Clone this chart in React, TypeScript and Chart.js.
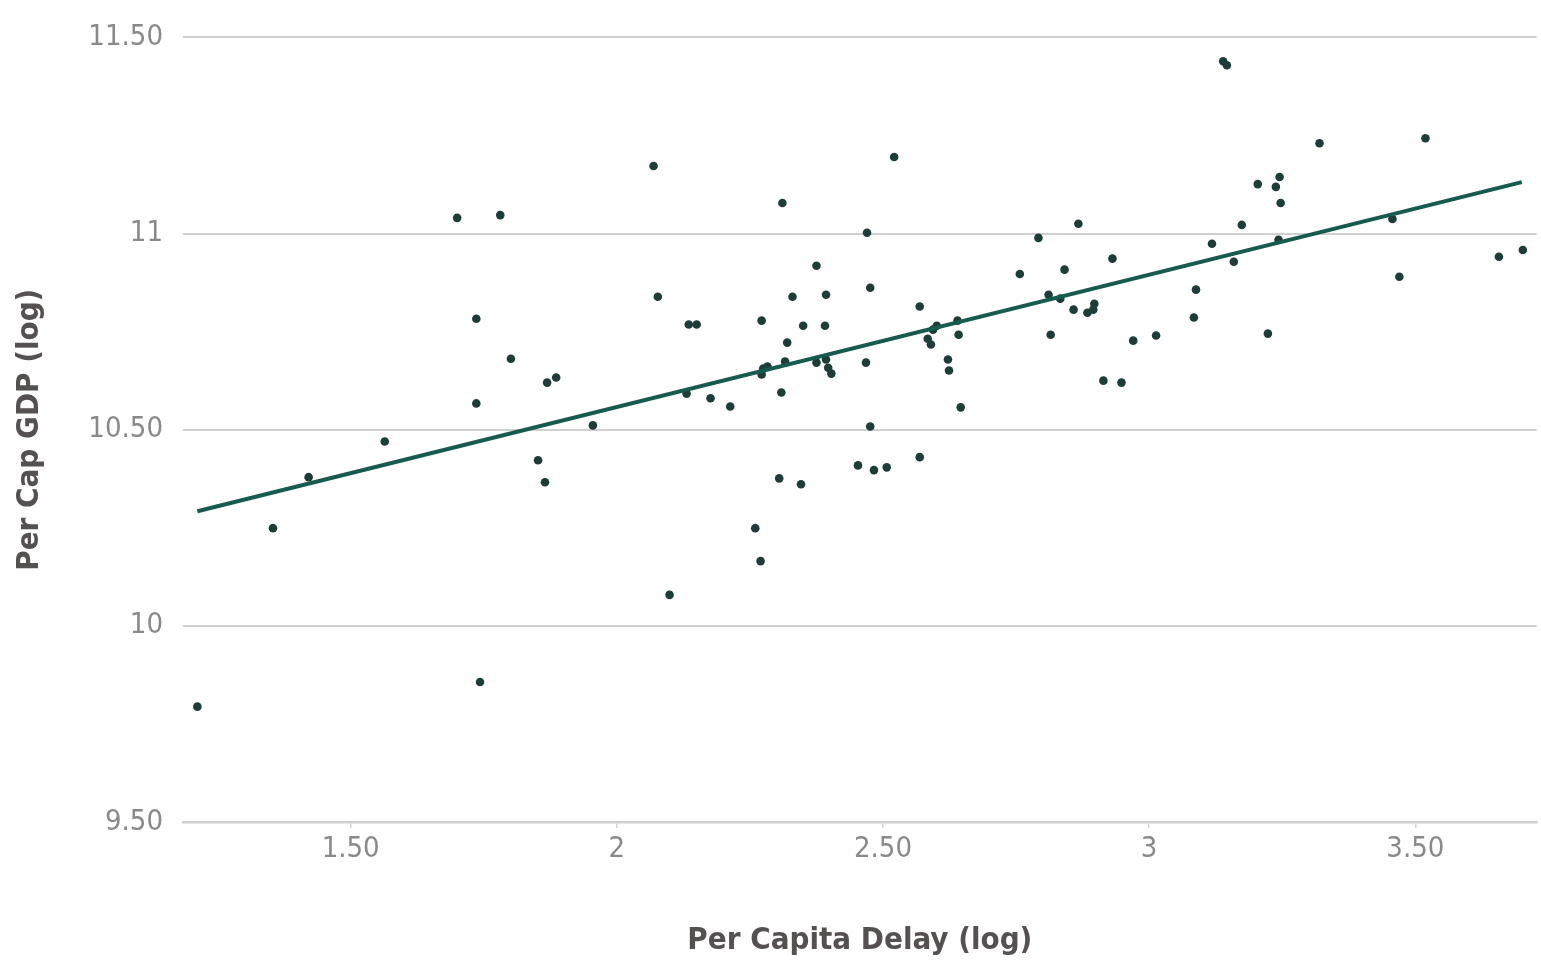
import React, { useEffect, useRef } from "react";
import { Chart, registerables } from "chart.js";

Chart.register(...registerables);

// Per Capita Delay (log) — x values of each country point
const delayX: number[] = [
  1.212, 1.354, 1.421, 1.564, 1.700, 1.736, 1.736, 1.743, 1.781, 1.801,
  1.852, 1.865, 1.869, 1.886, 1.955, 2.069, 2.077, 2.099, 2.131, 2.135,
  2.150, 2.176, 2.213, 2.260, 2.270, 2.272, 2.272, 2.275, 2.283, 2.305,
  2.311, 2.309, 2.316, 2.320, 2.330, 2.346, 2.350, 2.375, 2.375, 2.393,
  2.391, 2.393, 2.403, 2.397, 2.453, 2.468, 2.470, 2.476, 2.476, 2.483,
  2.507, 2.521, 2.569, 2.569, 2.590, 2.584, 2.601, 2.594, 2.622, 2.624,
  2.640, 2.642, 2.646, 2.757, 2.792, 2.811, 2.815, 2.841, 2.833, 2.858,
  2.867, 2.884, 2.897, 2.895, 2.914, 2.931, 2.948, 2.970, 3.013, 3.084,
  3.088, 3.118, 3.139, 3.146, 3.159, 3.174, 3.204, 3.223, 3.238, 3.245,
  3.243, 3.247, 3.320, 3.457, 3.470, 3.519, 3.657, 3.702,
];

// Per Cap GDP (log) — y values, same order
const gdpY: number[] = [
  9.794, 10.249, 10.379, 10.470, 11.040, 10.783, 10.567, 9.857, 11.047, 10.681,
  10.422, 10.366, 10.620, 10.633, 10.511, 11.172, 10.839, 10.079, 10.592, 10.768,
  10.768, 10.580, 10.559, 10.249, 10.165, 10.778, 10.641, 10.656, 10.661, 10.376,
  11.078, 10.595, 10.674, 10.722, 10.839, 10.361, 10.765, 10.918, 10.671, 10.844,
  10.765, 10.679, 10.643, 10.658, 10.409, 10.671, 11.002, 10.862, 10.508, 10.397,
  10.404, 11.195, 10.430, 10.814, 10.717, 10.732, 10.765, 10.755, 10.679, 10.651,
  10.778, 10.742, 10.557, 10.897, 10.989, 10.844, 10.742, 10.908, 10.834, 10.806,
  11.025, 10.798, 10.821, 10.806, 10.625, 10.936, 10.620, 10.727, 10.740, 10.786,
  10.857, 10.974, 11.439, 11.429, 10.928, 11.022, 11.126, 10.745, 11.119, 11.144,
  10.984, 11.078, 11.230, 11.037, 10.890, 11.243, 10.941, 10.958,
];

// Fitted trend line end points
const trendX: number[] = [1.212, 3.700];
const trendY: number[] = [10.292, 11.131];

const xTitle = "Per Capita Delay (log)";
const yTitle = "Per Cap GDP (log)";

const fmt = (v: number | string) => {
  const n = Number(v);
  return Number.isInteger(n) ? String(n) : n.toFixed(2);
};

export default function App() {
  const ref = useRef<HTMLCanvasElement | null>(null);

  useEffect(() => {
    if (!ref.current) return;
    const points = delayX.map((x, i) => ({ x, y: gdpY[i] }));
    const trend = trendX.map((x, i) => ({ x, y: trendY[i] }));
    const tickFont = { family: "'DejaVu Sans Condensed', 'DejaVu Sans', sans-serif", size: 29 };
    const titleFont = { family: "'DejaVu Sans Condensed', 'DejaVu Sans', sans-serif", size: 31, weight: "bold" as const };

    const chart = new Chart(ref.current, {
      type: "scatter",
      data: {
        datasets: [
          {
            label: "trend",
            data: trend,
            showLine: true,
            borderColor: "#175a4e",
            borderWidth: 4,
            pointRadius: 0,
            order: 0,
          },
          {
            label: "countries",
            data: points,
            backgroundColor: "#1e3d38",
            borderColor: "#1e3d38",
            borderWidth: 0,
            pointRadius: 4.3,
            order: 1,
          },
        ],
      },
      options: {
        animation: false,
        responsive: false,
        devicePixelRatio: 1,
        layout: { padding: { top: 35, right: 0, left: 0, bottom: 0 } },
        plugins: {
          legend: { display: false },
          tooltip: { enabled: false },
        },
        scales: {
          x: {
            type: "linear",
            min: 1.185,
            max: 3.728,
            ticks: {
              stepSize: 0.5,
              includeBounds: false,
              color: "#8a8888",
              font: tickFont,
              padding: 4,
              maxRotation: 0,
              callback: (v) => fmt(v),
            },
            grid: {
              drawOnChartArea: false,
              drawTicks: true,
              tickLength: 6,
              color: "#d4d4d4",
              lineWidth: 1.5,
            },
            border: { display: true, color: "#cfcfcf", width: 2.5 },
            title: {
              display: true,
              text: xTitle,
              color: "#555151",
              font: titleFont,
              padding: { top: 0, bottom: 0 },
            },
            afterFit: (scale: any) => {
              scale.height = 138;
            },
          },
          y: {
            type: "linear",
            min: 9.5,
            max: 11.5,
            ticks: {
              stepSize: 0.5,
              color: "#8a8888",
              font: tickFont,
              padding: 20,
              callback: (v) => fmt(v),
            },
            grid: {
              drawTicks: false,
              color: "#d0d0d0",
              lineWidth: 2,
            },
            border: { display: false },
            title: {
              display: true,
              text: yTitle,
              color: "#555151",
              font: titleFont,
              padding: { top: 11, bottom: 0 },
            },
            afterFit: (scale: any) => {
              scale.width = 183;
            },
          },
        },
      },
    });
    return () => chart.destroy();
  }, []);

  return (
    <div style={{ position: "absolute", left: 0, top: 0, width: 1541, height: 960, background: "#ffffff" }}>
      <canvas ref={ref} width={1541} height={960} style={{ display: "block" }} />
    </div>
  );
}
